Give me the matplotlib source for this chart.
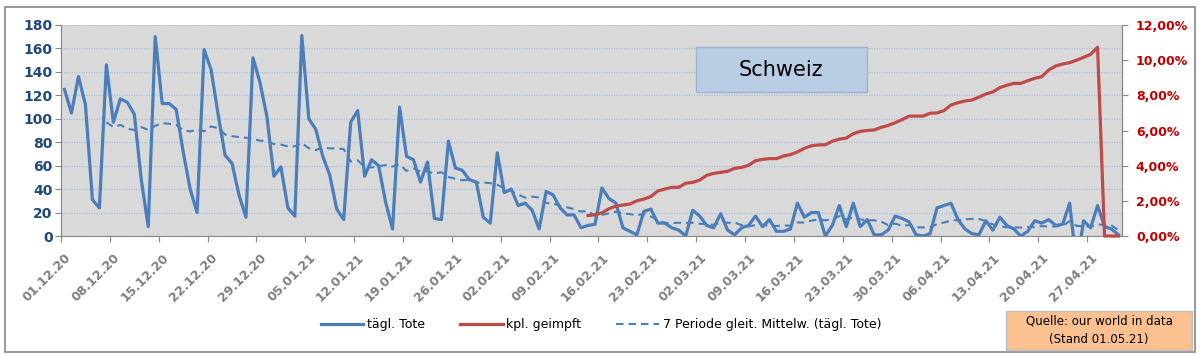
import matplotlib
matplotlib.use("Agg")
import matplotlib.pyplot as plt
import matplotlib.dates as mdates
from matplotlib.lines import Line2D
from matplotlib.patches import Rectangle
from matplotlib.transforms import ScaledTranslation
import numpy as np
import pandas as pd

# daily values 01.12.20 - 01.05.21
dates = pd.date_range("2020-12-01", "2021-05-01", freq="D")
deaths = [125, 105, 136, 112, 31, 24, 146, 97, 117, 114, 104, 48, 8, 170,
          113, 113, 108, 72, 40, 20, 159, 142, 104, 69, 62, 35, 16, 152,
          131, 102, 51, 59, 24, 17, 171, 100, 91, 68, 52, 23, 14, 97,
          107, 51, 65, 60, 29, 6, 110, 68, 65, 46, 63, 15, 14, 81,
          58, 56, 48, 46, 16, 11, 71, 37, 40, 26, 28, 22, 6, 38,
          35, 24, 18, 18, 7, 9, 10, 41, 32, 28, 7, 4, 1, 21,
          23, 11, 11, 7, 5, 0, 22, 17, 9, 7, 19, 5, 1, 7,
          9, 17, 8, 14, 4, 4, 6, 28, 16, 20, 20, 0, 9, 26,
          8, 28, 8, 14, 1, 1, 5, 17, 15, 12, 1, 0, 2, 24,
          26, 28, 14, 6, 2, 1, 13, 5, 16, 9, 6, 0, 4, 13,
          11, 14, 9, 10, 28, -25, 13, 7, 26, 8, 6, 1]
# vaccinated share in % from 14.02.21 on
vacc_start = "2021-02-14"
vacc = [1.16, 1.21, 1.32, 1.55, 1.70, 1.76, 1.82, 2.00, 2.10, 2.24, 2.56, 2.67,
        2.77, 2.77, 3.00, 3.05, 3.18, 3.45, 3.56, 3.62, 3.68, 3.85, 3.90, 4.02,
        4.28, 4.36, 4.40, 4.40, 4.55, 4.63, 4.78, 4.99, 5.13, 5.18, 5.19, 5.39,
        5.51, 5.57, 5.82, 5.95, 6.00, 6.03, 6.18, 6.29, 6.44, 6.62, 6.82, 6.82,
        6.82, 6.98, 7.00, 7.13, 7.45, 7.58, 7.68, 7.73, 7.90, 8.08, 8.19, 8.44,
        8.57, 8.68, 8.68, 8.83, 8.97, 9.06, 9.44, 9.67, 9.78, 9.86, 10.00, 10.16,
        10.33, 10.73, 0, 0, 0]

s_deaths = pd.Series(deaths, index=dates)
s_vacc = pd.Series(vacc, index=pd.date_range(vacc_start, periods=len(vacc)))
s_ma = s_deaths.rolling(7).mean()

blue = "#4A7EBB"
red = "#BE4B48"
gray = "#868686"

fig = plt.figure(figsize=(12.02, 3.57), dpi=100)
fig.patches.append(Rectangle((5 / 1202, 5 / 357), 1190 / 1202, 345 / 357,
                             transform=fig.transFigure, fill=False,
                             edgecolor=gray, lw=1.2))

ax = fig.add_axes([61 / 1202, 121 / 357, 1061 / 1202, 211 / 357])
ax.set_facecolor("#D9D9D9")
ax2 = ax.twinx()

xd = mdates.date2num(dates) + 0.5
ax.plot(xd, s_deaths.values, color=blue, lw=2.3, solid_joinstyle="round")
ax.plot(xd, s_ma.values, color=blue, lw=1.5, dashes=(3.6, 2.4))
xv = mdates.date2num(s_vacc.index) + 0.5
ax2.plot(xv, s_vacc.values, color=red, lw=2.3, clip_on=False)

x0 = mdates.date2num(dates[0])
ax.set_xlim(x0, x0 + len(dates))
ax.set_ylim(0, 180)
ax2.set_ylim(0, 12)

ax.set_yticks(np.arange(0, 181, 20))
ax2.set_yticks(np.arange(0, 12.1, 2))
ax2.set_yticklabels([f"{v:.2f}%".replace(".", ",") for v in np.arange(0, 12.1, 2)])

ticks = dates[::7]
ax.set_xticks(mdates.date2num(ticks))
ax.set_xticklabels([d.strftime("%d.%m.%y") for d in ticks])

ax.grid(axis="y", color="#A9BFDD", lw=0.9, ls=(0, (1, 1)))
ax.set_axisbelow(True)
for a in (ax, ax2):
    a.spines["top"].set_visible(False)
    for side in ("left", "right", "bottom"):
        a.spines[side].set_color(gray)
ax2.spines["left"].set_visible(False)
ax2.spines["bottom"].set_visible(False)

ax.tick_params(axis="y", length=4, color=gray, pad=2, labelsize=10,
               labelcolor="#1F497D")
ax.tick_params(axis="x", length=4, color=gray, pad=6, labelsize=9,
               labelcolor="#7F7F7F")
ax2.tick_params(axis="y", length=4, color=gray, pad=6, labelsize=9,
                labelcolor="#C00000")
for lab in ax.get_yticklabels() + ax2.get_yticklabels() + ax.get_xticklabels():
    lab.set_fontweight("bold")
off = ScaledTranslation(8 / 100, -6 / 100, fig.dpi_scale_trans)
for lab in ax.get_xticklabels():
    lab.set_rotation(45)
    lab.set_ha("right")
    lab.set_va("center")
    lab.set_rotation_mode("anchor")
    lab.set_transform(lab.get_transform() + off)

# title box
fig.patches.append(Rectangle((696 / 1202, (357 - 92) / 357), 171 / 1202, 45 / 357,
                             transform=fig.transFigure, fc="#B9CDE5",
                             ec="#9CB3D4", lw=1, zorder=5))
fig.text(781 / 1202, (357 - 70) / 357, "Schweiz", fontsize=15,
         ha="center", va="center", color="black", zorder=6)

handles = [Line2D([], [], color=blue, lw=2.3),
           Line2D([], [], color=red, lw=2.3),
           Line2D([], [], color=blue, lw=1.5, dashes=(3.6, 2.4))]
fig.legend(handles, ["tägl. Tote", "kpl. geimpft",
                     "7 Periode gleit. Mittelw. (tägl. Tote)"],
           loc="center", bbox_to_anchor=(0.5, 0.09), ncol=3, frameon=False,
           fontsize=9, handlelength=3.4, handletextpad=0.3, columnspacing=2.8)

fig.patches.append(Rectangle((1006 / 1202, 7 / 357), 186 / 1202, 39 / 357,
                             transform=fig.transFigure, fc="#FAC090",
                             ec="#BFBFBF", lw=1))
fig.text(1099 / 1202, 27 / 357, "Quelle: our world in data\n(Stand 01.05.21)",
         ha="center", va="center", fontsize=8.5, linespacing=1.5)

fig.savefig("out.png", dpi=100)
